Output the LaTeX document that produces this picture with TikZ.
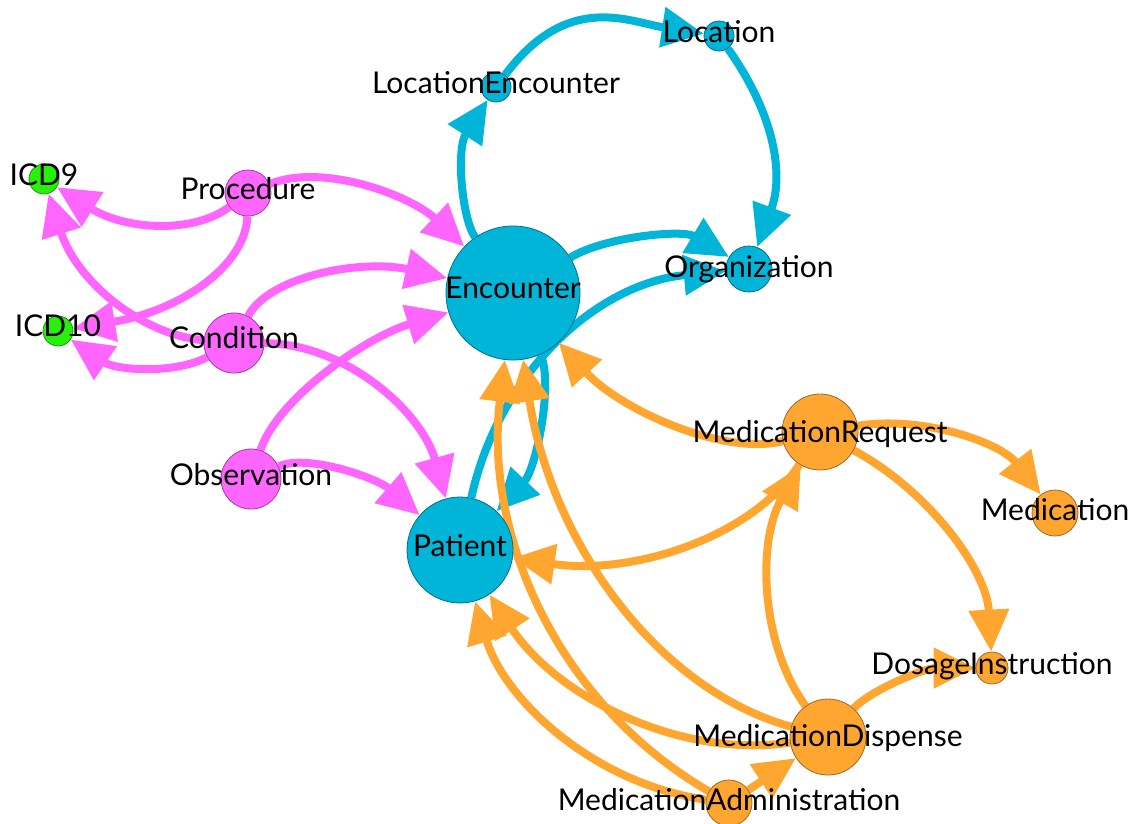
\documentclass[tikz,border=0pt]{standalone}
\usepackage{fontspec}
\setmainfont{Lato}
\usetikzlibrary{arrows.meta,calc}
\definecolor{pk}{RGB}{255,102,255}
\definecolor{pkd}{RGB}{160,60,160}
\definecolor{bl}{RGB}{0,181,216}
\definecolor{bld}{RGB}{0,110,140}
\definecolor{og}{RGB}{255,166,48}
\definecolor{ogd}{RGB}{160,105,35}
\definecolor{gr}{RGB}{40,240,10}
\definecolor{grd}{RGB}{30,150,20}
\pgfdeclarelayer{bg}
\pgfsetlayers{bg,main}
\newcommand{\myedge}[4]{\draw[#4] (#1) .. controls ($(#1)!0.6667!(#3)$) and ($(#2)!0.6667!(#3)$) .. (#2);}
\newcommand{\mycedge}[5]{\draw[#5] (#1) .. controls (#3) and (#4) .. (#2);}
\tikzset{
  nd/.style={circle, line width=0.8pt, inner sep=0pt, minimum size=#1},
  pkn/.style={nd=#1, fill=pk, draw=pkd},
  bln/.style={nd=#1, fill=bl, draw=bld},
  ogn/.style={nd=#1, fill=og, draw=ogd},
  grn/.style={nd=#1, fill=gr, draw=grd},
  lbl/.style={font=\fontsize{30}{34}\selectfont, text=black, inner sep=0pt, anchor=base},
  ed/.style={line width=8pt, -{Triangle[length=42pt,width=39pt]}},
  pe/.style={ed, draw=pk},
  be/.style={ed, draw=bl},
  oe/.style={ed, draw=og},
}
\begin{document}
\begin{tikzpicture}[x=1pt,y=-1pt]
\useasboundingbox (0,0) rectangle (1132,823);
% nodes
\node[grn=30pt] (i9) at (44,179) {};
\node[grn=30pt] (i10) at (58,331) {};
\node[pkn=46pt] (pr) at (248,193) {};
\node[pkn=60pt] (co) at (234,343) {};
\node[pkn=60pt] (ob) at (251,479) {};
\node[bln=134pt] (en) at (513,293) {};
\node[bln=106pt] (pa) at (460,550) {};
\node[bln=30pt] (le) at (496,87) {};
\node[bln=30pt] (lo) at (719,36) {};
\node[bln=46pt] (or) at (749,269) {};
\node[ogn=76pt] (mr) at (820,432) {};
\node[ogn=46pt] (me) at (1055,513) {};
\node[ogn=32pt] (di) at (992,668) {};
\node[ogn=76pt] (md) at (828,737) {};
\node[ogn=46pt] (ma) at (729,803) {};
% labels
\node[lbl] (i9l) at ($(i9)+(0,6)$) {ICD9};
\node[lbl] (i10l) at ($(i10)+(0,5)$) {ICD10};
\node[lbl] (prl) at ($(pr)+(0,6)$) {Procedure};
\node[lbl] (col) at ($(co)+(0,5)$) {Condition};
\node[lbl] (obl) at ($(ob)+(0,6)$) {Observation};
\node[lbl] (enl) at ($(en)+(0,5)$) {Encounter};
\node[lbl] (pal) at ($(pa)+(0,6)$) {Patient};
\node[lbl] (lel) at ($(le)+(0,6)$) {LocationEncounter};
\node[lbl] (lol) at ($(lo)+(0,6)$) {Location};
\node[lbl] (orl) at ($(or)+(0,8)$) {Organization};
\node[lbl] (mrl) at ($(mr)+(0,10)$) {MedicationRequest};
\node[lbl] (mel) at ($(me)+(0,7)$) {Medication};
\node[lbl] (dil) at ($(di)+(0,6)$) {DosageInstruction};
\node[lbl] (mdl) at ($(md)+(0,9)$) {MedicationDispense};
\node[lbl] (mal) at ($(ma)+(0,7)$) {MedicationAdministration};
\begin{pgfonlayer}{bg}
% pink
\myedge{pr}{i9}{165,255}{pe}
\myedge{pr}{i10}{245,300}{pe}
\myedge{pr}{en}{360,147}{pe}
\myedge{co}{i10}{145,390}{pe}
\myedge{co}{i9}{92,330}{pe}
\myedge{co}{pa}{403,344}{pe}
\myedge{co}{en}{287,242}{pe}
\myedge{ob}{en}{290,360}{pe}
\myedge{ob}{pa}{334,441}{pe}
% blue
\myedge{en}{le}{436,180}{be}
\mycedge{le}{lo}{568,-9}{629,22}{be}
\mycedge{lo}{or}{775,115}{784,175}{be}
\myedge{en}{or}{649,209}{be}
\myedge{pa}{or}{516,291}{be}
\myedge{en}{pa}{574,429}{be}
% orange
\myedge{mr}{en}{674,468}{oe}
\myedge{mr}{pa}{720,589}{oe}
\myedge{mr}{me}{973,407}{oe}
\myedge{mr}{di}{984,521}{oe}
\myedge{md}{mr}{726,596}{oe}
\myedge{md}{di}{890,668}{oe}
\myedge{md}{pa}{605,770}{oe}
\myedge{md}{en}{570,665}{oe}
\myedge{ma}{en}{469,652}{oe}
\myedge{ma}{pa}{526,774}{oe}
\myedge{ma}{md}{775,772}{oe}
\end{pgfonlayer}
\end{tikzpicture}
\end{document}
